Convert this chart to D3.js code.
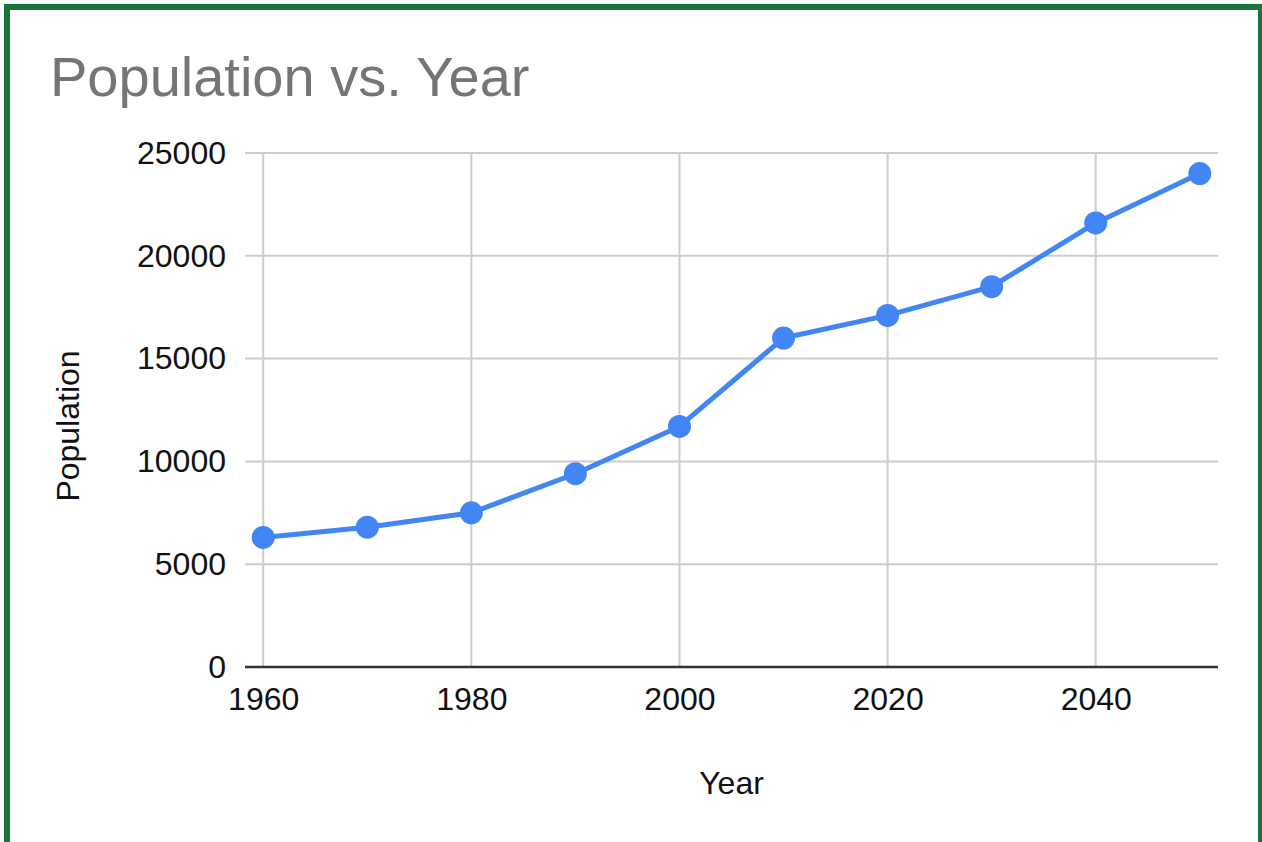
<!DOCTYPE html>
<html>
<head>
<meta charset="utf-8">
<script src="https://cdn.jsdelivr.net/npm/d3@7"></script>
<style>
html,body{margin:0;padding:0;background:#fff;overflow:hidden;}
svg{display:block;}
</style>
</head>
<body>
<svg id="chart" width="1262" height="842"></svg>
<script>
const years = [1960, 1970, 1980, 1990, 2000, 2010, 2020, 2030, 2040, 2050];
const population = [6300, 6800, 7500, 9400, 11700, 16000, 17100, 18500, 21600, 24000];
const xTicks = [1960, 1980, 2000, 2020, 2040];
const yTicks = [0, 5000, 10000, 15000, 20000, 25000];
const titleText = "Population vs. Year";
const xTitle = "Year";
const yTitle = "Population";

(function () {
const svg = d3.select("#chart");
const font = "Arial, 'Liberation Sans', sans-serif";

// outer green frame
svg.append("rect").attr("x", 7).attr("y", 7).attr("width", 1254).attr("height", 900)
  .attr("fill", "none").attr("stroke", "#18763a").attr("stroke-width", 6);

const pL = 245, pR = 1218, pT = 153, pB = 667;
const x = d3.scaleLinear().domain([1958.25, 2051.75]).range([pL, pR]);
const y = d3.scaleLinear().domain([0, 25000]).range([pB, pT]);

// title
svg.append("text").attr("x", 50).attr("y", 96)
  .attr("font-family", font).attr("font-size", 56).attr("fill", "#757575")
  .text(titleText);

// gridlines
svg.append("g").selectAll("line").data(yTicks.filter(d => d > 0)).join("line")
  .attr("x1", pL).attr("x2", pR).attr("y1", d => y(d)).attr("y2", d => y(d))
  .attr("stroke", "#cccccc").attr("stroke-width", 2);
svg.append("g").selectAll("line").data(xTicks).join("line")
  .attr("x1", d => x(d)).attr("x2", d => x(d)).attr("y1", pT).attr("y2", pB)
  .attr("stroke", "#cccccc").attr("stroke-width", 2);

// x axis
const xAxis = svg.append("g").attr("transform", `translate(0,${pB})`)
  .call(d3.axisBottom(x).tickValues(xTicks).tickFormat(d3.format("d")).tickSize(0).tickPadding(20));
xAxis.select(".domain").remove();
xAxis.selectAll("text").attr("font-family", font).attr("font-size", 32).attr("fill", "#111");
svg.append("line").attr("x1", pL).attr("x2", pR).attr("y1", pB).attr("y2", pB)
  .attr("stroke", "#333").attr("stroke-width", 2.5);

// y axis
const yAxis = svg.append("g").attr("transform", `translate(${pL},0)`)
  .call(d3.axisLeft(y).tickValues(yTicks).tickFormat(d3.format("d")).tickSize(0).tickPadding(19));
yAxis.select(".domain").remove();
yAxis.selectAll("text").attr("font-family", font).attr("font-size", 32).attr("fill", "#111");

// axis titles
svg.append("text").attr("x", (pL + pR) / 2).attr("y", 794).attr("text-anchor", "middle")
  .attr("font-family", font).attr("font-size", 32).attr("fill", "#111").text(xTitle);
svg.append("text").attr("transform", "translate(79,426) rotate(-90)").attr("text-anchor", "middle")
  .attr("font-family", font).attr("font-size", 32).attr("fill", "#111").text(yTitle);

// line + points
const data = years.map((d, i) => ({year: d, value: population[i]}));
const line = d3.line().x(d => x(d.year)).y(d => y(d.value));
svg.append("path").datum(data).attr("d", line)
  .attr("fill", "none").attr("stroke", "#4285f4").attr("stroke-width", 5)
  .attr("stroke-linejoin", "round");
svg.append("g").selectAll("circle").data(data).join("circle")
  .attr("cx", d => x(d.year)).attr("cy", d => y(d.value)).attr("r", 11.5)
  .attr("fill", "#4285f4");
})();
</script>
</body>
</html>
